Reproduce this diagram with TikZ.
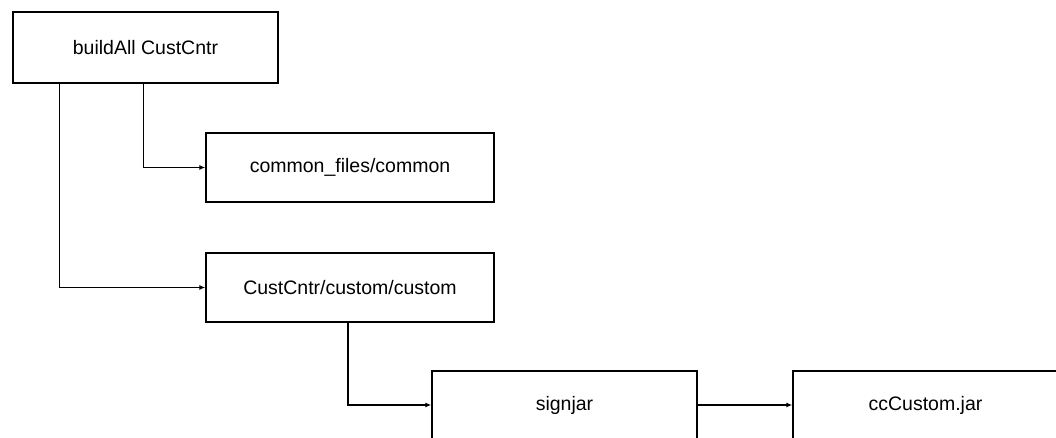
\documentclass[tikz,border=0pt]{standalone}
\usepackage{fontspec}
\setmainfont{Liberation Sans}
\usetikzlibrary{arrows.meta,calc}
\begin{document}
\begin{tikzpicture}[x=1pt,y=-1pt,
  box/.style={draw=black, line width=1.4pt, fill=white, inner sep=0pt,
    font=\fontsize{19.5}{22}\selectfont},
  link/.style={draw=black, line width=1.4pt, -{Latex[length=6pt,width=5pt]}}]
  \fill[white] (0,0) rectangle (1056,438);
  \useasboundingbox (0,0) rectangle (1056,438);
  \clip (0,0) rectangle (1056,438);
  % build steps
  \node[box, minimum width=265pt, minimum height=71pt] (build) at (145.5,47.5) {buildAll CustCntr};
  \node[box, minimum width=288pt, minimum height=69pt] (common) at (350,167.5) {common\_files/common};
  \node[box, minimum width=288pt, minimum height=69pt] (custom) at (350,287.5) {CustCntr/custom/custom};
  \node[box, minimum width=265pt, minimum height=68pt] (signjar) at (564.5,405) {signjar};
  \node[box, minimum width=265pt, minimum height=68pt] (jar) at (925.5,405) {ccCustom.jar};
  % dependencies
  \draw[link] ($(build.south west)+(131,0)$) |- (common.west);
  \draw[link] ($(build.south west)+(47,0)$) |- (custom.west);
  \draw[link] ($(custom.south)+(-2,0)$) |- (signjar.west);
  \draw[link] (signjar.east) -- (jar.west);
\end{tikzpicture}
\end{document}
